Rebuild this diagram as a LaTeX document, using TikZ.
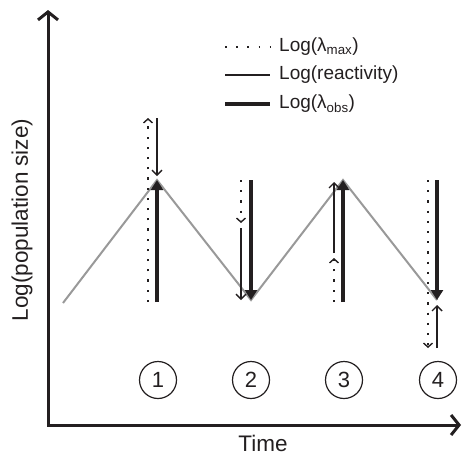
\documentclass[tikz,border=0pt]{standalone}
\usepackage{fontspec}
\setmainfont{Liberation Sans}
\usetikzlibrary{arrows.meta}
\definecolor{ink}{HTML}{231F20}
\definecolor{zig}{HTML}{999999}
\begin{document}
\begin{tikzpicture}[x=1pt,y=-1pt,
  axisline/.style={ink,line width=3pt,line join=miter,
    {Straight Barb[length=8pt,width=20pt]}-{Straight Barb[length=8pt,width=20pt]}},
  thickarr/.style={ink,line width=4pt,-{Triangle[length=10pt,width=12pt]}},
  thinarr/.style={ink,line width=1.4pt,-{Straight Barb[length=5pt,width=10pt]}},
  dotarr/.style={ink,line width=2.2pt,dash pattern=on 2.2pt off 8pt,
    -{Straight Barb[length=4pt,width=9pt,line width=1.4pt]}},
  zigline/.style={zig,line width=2pt,line join=miter},
  num/.style={draw=ink,circle,line width=1.2pt,minimum size=37pt,inner sep=0pt,
    text=ink,font=\fontsize{22}{24}\selectfont},
  legtext/.style={anchor=west,text=ink,inner sep=0pt,font=\fontsize{19}{21}\selectfont},
  lab/.style={text=ink,inner sep=0pt,font=\fontsize{22.5}{24}\selectfont}
]
\useasboundingbox (0,0) rectangle (462,455);
% axes
\coordinate (O) at (48,425);
\coordinate (ytop) at (48,10);
\coordinate (xend) at (461,425);
\draw[axisline] (ytop) -- (O) -- (xend);
\node[lab,rotate=90] (ylab) at (22,220) {Log(population size)};
\node[lab,anchor=base] (tlab) at (263,451) {Time};

% zigzag
\coordinate (z0) at (63,303);
\coordinate (p1) at (157,180);
\coordinate (t2) at (251,300);
\coordinate (p3) at (343,180);
\coordinate (t4) at (437,300);
\draw[zigline] (z0) -- (p1) -- (t2) -- (p3) -- (t4);

% event 1
\coordinate (d1b) at (148,302); \coordinate (d1t) at (148,118);
\coordinate (r1t) at (157,118); \coordinate (r1e) at (157,176);
\coordinate (k1b) at (157,302);
\draw[dotarr] (d1b) -- (d1t);
\draw[thinarr] (r1t) -- (r1e);
\draw[thickarr] (k1b) -- (p1);

% event 2
\coordinate (d2t) at (241,180); \coordinate (d2e) at (241,223);
\coordinate (r2t) at (241,228); \coordinate (r2e) at (241,300);
\coordinate (k2t) at (251,180);
\draw[dotarr] (d2t) -- (d2e);
\draw[thinarr] (r2t) -- (r2e);
\draw[thickarr] (k2t) -- (t2);

% event 3
\coordinate (d3b) at (334,302); \coordinate (d3e) at (334,258);
\coordinate (r3b) at (334,253); \coordinate (r3e) at (334,182);
\coordinate (k3b) at (343,302);
\draw[dotarr] (d3b) -- (d3e);
\draw[thinarr] (r3b) -- (r3e);
\draw[thickarr] (k3b) -- (p3);

% event 4
\coordinate (d4t) at (428,180); \coordinate (d4e) at (428,348);
\coordinate (k4t) at (437,180);
\coordinate (r4b) at (437,348); \coordinate (r4e) at (437,305);
\draw[dotarr] (d4t) -- (d4e);
\draw[thickarr] (k4t) -- (t4);
\draw[thinarr] (r4b) -- (r4e);

% numbered circles
\node[num] (c1) at (158,380) {1};
\node[num] (c2) at (251,380) {2};
\node[num] (c3) at (344,380) {3};
\node[num] (c4) at (438,380) {4};

% legend
\coordinate (l1a) at (225,47); \coordinate (l1b) at (271,47);
\coordinate (l2a) at (225,75); \coordinate (l2b) at (270,75);
\coordinate (l3a) at (225,104); \coordinate (l3b) at (270,104);
\draw[ink,line width=1.6pt,dash pattern=on 1.6pt off 9.6pt] (l1a) -- (l1b);
\draw[ink,line width=1.4pt] (l2a) -- (l2b);
\draw[ink,line width=4pt] (l3a) -- (l3b);
\node[legtext] (t1) at (279,47) {Log(λ\textsubscript{max})};
\node[legtext] (t2l) at (279,75) {Log(reactivity)};
\node[legtext] (t3) at (279,104) {Log(λ\textsubscript{obs})};
\end{tikzpicture}
\end{document}
